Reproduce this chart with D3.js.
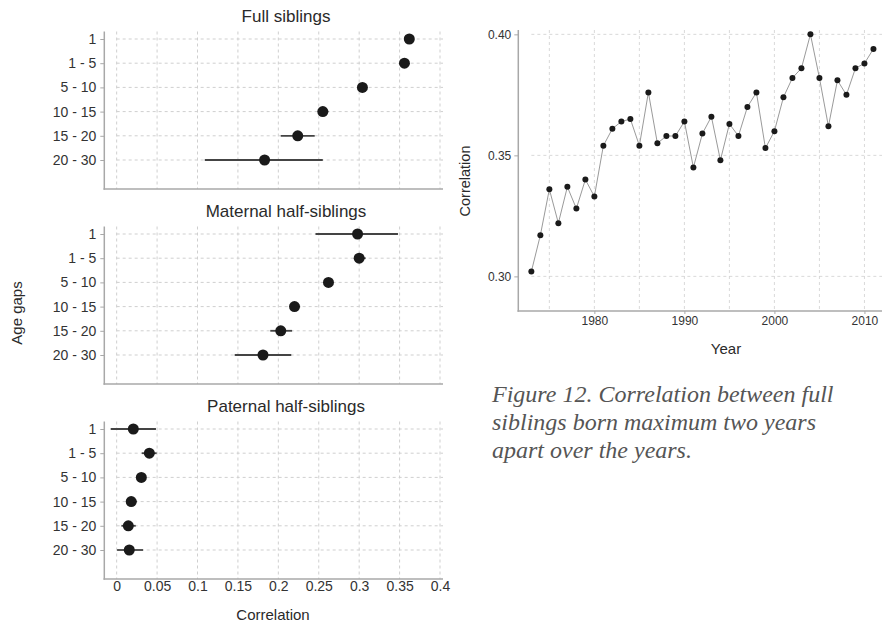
<!DOCTYPE html>
<html>
<head>
<meta charset="utf-8">
<script src="https://cdn.jsdelivr.net/npm/d3@7"></script>
<style>
  body { margin: 0; background: #fff; }
  svg { display: block; font-family: "Liberation Sans", Arial, sans-serif; }
</style>
</head>
<body>
<svg id="main_chart" width="883" height="624"></svg>
<script>
// age gap categories (left panels)
const ageGaps = ["1", "1 - 5", "5 - 10", "10 - 15", "15 - 20", "20 - 30"];
const corrTicks = [0, 0.05, 0.1, 0.15, 0.2, 0.25, 0.3, 0.35, 0.4];

const fullEst = [0.362, 0.356, 0.304, 0.255, 0.224, 0.183];
const fullLo  = [0.358, 0.352, 0.301, 0.249, 0.203, 0.109];
const fullHi  = [0.366, 0.360, 0.307, 0.262, 0.245, 0.255];

const matEst = [0.298, 0.300, 0.262, 0.220, 0.203, 0.181];
const matLo  = [0.246, 0.294, 0.258, 0.215, 0.190, 0.146];
const matHi  = [0.348, 0.308, 0.266, 0.227, 0.217, 0.216];

const patEst = [0.0206, 0.0404, 0.0305, 0.018, 0.0144, 0.0156];
const patLo  = [-0.0074, 0.031, 0.027, 0.013, 0.0058, 0.0005];
const patHi  = [0.0486, 0.0495, 0.034, 0.025, 0.0236, 0.0327];

// right chart: correlation by year
const years = [1973, 1974, 1975, 1976, 1977, 1978, 1979, 1980, 1981, 1982,
               1983, 1984, 1985, 1986, 1987, 1988, 1989, 1990, 1991, 1992,
               1993, 1994, 1995, 1996, 1997, 1998, 1999, 2000, 2001, 2002,
               2003, 2004, 2005, 2006, 2007, 2008, 2009, 2010, 2011];
const yearCorr = [0.302, 0.317, 0.336, 0.322, 0.337, 0.328, 0.340, 0.333, 0.354, 0.361,
                  0.364, 0.365, 0.354, 0.376, 0.355, 0.358, 0.358, 0.364, 0.345, 0.359,
                  0.366, 0.348, 0.363, 0.358, 0.370, 0.376, 0.353, 0.360, 0.374, 0.382,
                  0.386, 0.400, 0.382, 0.362, 0.381, 0.375, 0.386, 0.388, 0.394];
const yearTicks = [1980, 1990, 2000, 2010];
const yearMinor = [1975, 1985, 1995, 2005];
const rightYTicks = [0.30, 0.35, 0.40];

const caption = ["Figure 12. Correlation between full",
                 "siblings born maximum two years",
                 "apart over the years."];

const svg = d3.select("#main_chart");
const gridColor = "#cfcfcf";
const axisColor = "#a8a8a8";
const textColor = "#333";

// ---------- left: three dot + errorbar panels ----------
let xScale = d3.scaleLinear()
    .domain([-0.0153, 0.4037])
    .range([104.3, 443]);

let panels = [
    {title: "Full siblings", top: 31.5, est: fullEst, lo: fullLo, hi: fullHi},
    {title: "Maternal half-siblings", top: 226.5, est: matEst, lo: matLo, hi: matHi},
    {title: "Paternal half-siblings", top: 421.5, est: patEst, lo: patLo, hi: patHi}
];

panels.forEach(function(p, pi) {
    let bottom = p.top + 157.5;
    let yScale = d3.scalePoint()
        .domain(ageGaps)
        .range([p.top + 7.5, p.top + 128.5]);

    let g = svg.append("g");

    // vertical grid
    g.selectAll("line.vgrid")
        .data(corrTicks)
        .enter().append("line")
        .attr("x1", d => xScale(d)).attr("x2", d => xScale(d))
        .attr("y1", p.top).attr("y2", bottom)
        .attr("stroke", gridColor).attr("stroke-dasharray", "3,3");

    // horizontal grid
    g.selectAll("line.hgrid")
        .data(ageGaps)
        .enter().append("line")
        .attr("x1", xScale(0)).attr("x2", 443)
        .attr("y1", d => yScale(d)).attr("y2", d => yScale(d))
        .attr("stroke", gridColor).attr("stroke-dasharray", "3,3");

    // y axis
    let yAxis = g.append("g")
        .attr("transform", "translate(104.3,0)")
        .call(d3.axisLeft(yScale).tickSize(4).tickPadding(4));
    yAxis.select(".domain").remove();
    yAxis.selectAll(".tick line").attr("stroke", axisColor);
    yAxis.selectAll("text").attr("fill", textColor).style("font-size", "14px");
    g.append("line")
        .attr("x1", 104.3).attr("x2", 104.3)
        .attr("y1", p.top).attr("y2", bottom + 0.75)
        .attr("stroke", axisColor).attr("stroke-width", 1.5);

    // x axis line (ticks only on bottom panel)
    g.append("line")
        .attr("x1", 103.5).attr("x2", 443)
        .attr("y1", bottom).attr("y2", bottom)
        .attr("stroke", axisColor).attr("stroke-width", 1.5);

    if (pi === 2) {
        let xAxis = g.append("g")
            .attr("transform", "translate(0," + bottom + ")")
            .call(d3.axisBottom(xScale)
                .tickValues(corrTicks)
                .tickFormat(d => d3.format("~g")(d))
                .tickSize(0).tickPadding(2));
        xAxis.select(".domain").remove();
        xAxis.selectAll("text").attr("fill", textColor).style("font-size", "14px");
    }

    // error bars
    g.selectAll("line.err")
        .data(ageGaps)
        .enter().append("line")
        .attr("x1", (d, i) => xScale(p.lo[i]))
        .attr("x2", (d, i) => xScale(p.hi[i]))
        .attr("y1", d => yScale(d)).attr("y2", d => yScale(d))
        .attr("stroke", "#444").attr("stroke-width", 1.8);

    // points
    g.selectAll("circle")
        .data(ageGaps)
        .enter().append("circle")
        .attr("cx", (d, i) => xScale(p.est[i]))
        .attr("cy", d => yScale(d))
        .attr("r", 5.5)
        .attr("fill", "#1a1a1a");

    // panel title
    g.append("text")
        .attr("x", 286).attr("y", p.top - 10)
        .attr("text-anchor", "middle")
        .attr("fill", "#2a2a2a")
        .style("font-size", "17px")
        .text(p.title);
});

svg.append("text")
    .attr("transform", "translate(22,313) rotate(-90)")
    .attr("text-anchor", "middle")
    .attr("fill", "#2a2a2a")
    .style("font-size", "15px")
    .text("Age gaps");

svg.append("text")
    .attr("x", 273).attr("y", 620)
    .attr("text-anchor", "middle")
    .attr("fill", "#2a2a2a")
    .style("font-size", "15px")
    .text("Correlation");

// ---------- right: correlation over years ----------
let rx = d3.scaleLinear()
    .domain([1971.55, 2011.95])
    .range([518.3, 882]);
let ry = d3.scaleLinear()
    .domain([0.2857, 0.4018])
    .range([311, 30]);

let rg = svg.append("g");

rg.selectAll("line.vgrid")
    .data(yearTicks.concat(yearMinor))
    .enter().append("line")
    .attr("x1", d => rx(d)).attr("x2", d => rx(d))
    .attr("y1", 30).attr("y2", 311)
    .attr("stroke", gridColor).attr("stroke-width", 0.8).attr("stroke-dasharray", "3,3");

rg.selectAll("line.hgrid")
    .data(rightYTicks)
    .enter().append("line")
    .attr("x1", rx(1973)).attr("x2", 882)
    .attr("y1", d => ry(d)).attr("y2", d => ry(d))
    .attr("stroke", gridColor).attr("stroke-width", 0.8).attr("stroke-dasharray", "3,3");

let ryAxis = rg.append("g")
    .attr("transform", "translate(518.3,0)")
    .call(d3.axisLeft(ry).tickValues(rightYTicks).tickFormat(d3.format(".2f")).tickSize(4).tickPadding(3));
ryAxis.select(".domain").remove();
ryAxis.selectAll(".tick line").attr("stroke", axisColor);
ryAxis.selectAll("text").attr("fill", textColor).style("font-size", "12px");

let rxAxis = rg.append("g")
    .attr("transform", "translate(0,311)")
    .call(d3.axisBottom(rx).tickValues(yearTicks).tickFormat(d3.format("d")).tickSize(3).tickPadding(2));
rxAxis.select(".domain").remove();
rxAxis.selectAll(".tick line").attr("stroke", axisColor);
rxAxis.selectAll("text").attr("fill", textColor).style("font-size", "12px");

rg.append("line")
    .attr("x1", 518.3).attr("x2", 518.3).attr("y1", 30).attr("y2", 311.7)
    .attr("stroke", axisColor).attr("stroke-width", 1.5);
rg.append("line")
    .attr("x1", 517.5).attr("x2", 882).attr("y1", 311).attr("y2", 311)
    .attr("stroke", axisColor).attr("stroke-width", 1.5);

let line = d3.line()
    .x((d, i) => rx(years[i]))
    .y(d => ry(d));

rg.append("path")
    .attr("d", line(yearCorr))
    .attr("fill", "none")
    .attr("stroke", "#9a9a9a")
    .attr("stroke-width", 1);

rg.selectAll("circle")
    .data(yearCorr)
    .enter().append("circle")
    .attr("cx", (d, i) => rx(years[i]))
    .attr("cy", d => ry(d))
    .attr("r", 3)
    .attr("fill", "#1a1a1a");

svg.append("text")
    .attr("transform", "translate(470,181) rotate(-90)")
    .attr("text-anchor", "middle")
    .attr("fill", "#2a2a2a")
    .style("font-size", "14.5px")
    .text("Correlation");

svg.append("text")
    .attr("x", 726).attr("y", 354)
    .attr("text-anchor", "middle")
    .attr("fill", "#2a2a2a")
    .style("font-size", "15px")
    .text("Year");

svg.append("g").selectAll("text")
    .data(caption)
    .enter().append("text")
    .attr("x", 492)
    .attr("y", (d, i) => 401.5 + i * 28.2)
    .attr("fill", "#555")
    .style("font-family", "'Liberation Serif', 'Times New Roman', serif")
    .style("font-style", "italic")
    .style("font-size", "24px")
    .text(d => d);
</script>
</body>
</html>
